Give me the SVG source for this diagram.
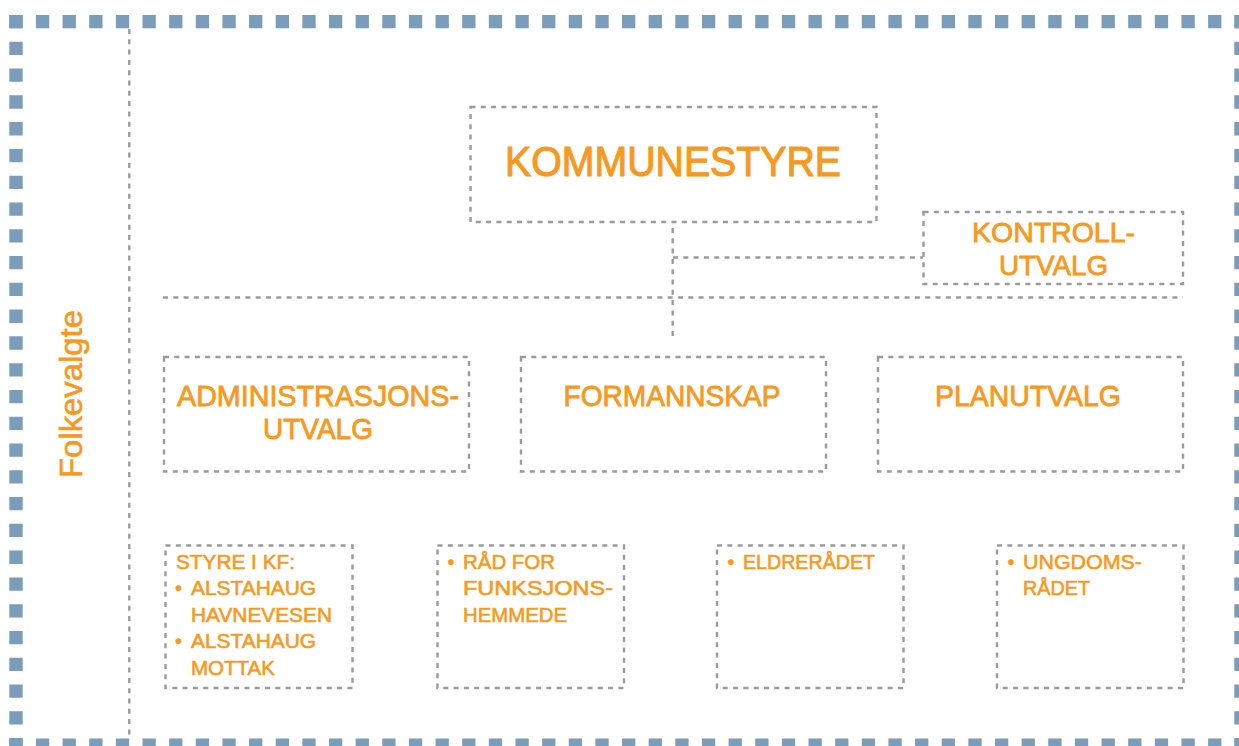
<svg xmlns="http://www.w3.org/2000/svg" width="1239" height="746" viewBox="0 0 1239 746">
<style>
.frame{fill:none;stroke:#7B9DBA;stroke-width:13.4}
.box{fill:none;stroke:#9B9B9B;stroke-width:2.4;stroke-dasharray:5 5.3}
.con{fill:none;stroke:#9B9B9B;stroke-width:2.4;stroke-dasharray:5 5.3}
text{font-family:"Liberation Sans",Arial,sans-serif;fill:#F7991F;stroke:#F7991F;stroke-width:0.6}
.big{font-size:43px;stroke-width:1.1}
.mid{font-size:29px;stroke-width:0.8}
.km{font-size:28px;stroke-width:0.8}
.sm{font-size:19.5px;stroke-width:0.55}
</style>
<rect width="1239" height="746" fill="#fff"/>
<g id="frame">
<line class="frame" x1="9.3" y1="21.6" x2="1239" y2="21.6" stroke-dasharray="13.3 13.34"/>
<line class="frame" x1="9.3" y1="745.2" x2="1239" y2="745.2" stroke-dasharray="13.3 13.34"/>
<line class="frame" x1="16" y1="15" x2="16" y2="746" stroke-dasharray="13.3 13.48"/>
<line class="frame" x1="1241" y1="15" x2="1241" y2="746" stroke-dasharray="13.3 13.48"/>
<line class="con" x1="129.3" y1="29" x2="129.3" y2="740"/>
</g>
<g id="folkevalgte">
<text transform="translate(82,394) rotate(-90)" text-anchor="middle" font-size="32" stroke-width="0.8" textLength="168" lengthAdjust="spacingAndGlyphs">Folkevalgte</text>
</g>
<g id="connectors">
<line class="con" x1="672.7" y1="228" x2="672.7" y2="341"/>
<line class="con" x1="673" y1="257.5" x2="923" y2="257.5"/>
<line class="con" x1="163" y1="297.5" x2="1183" y2="297.5"/>
</g>
<g id="kommunestyre">
<rect class="box" x="470.5" y="107" width="406" height="115"/>
<text class="big" x="673" y="176" text-anchor="middle" textLength="336" lengthAdjust="spacingAndGlyphs">KOMMUNESTYRE</text>
</g>
<g id="kontrollutvalg">
<rect class="box" x="923.5" y="212" width="259.5" height="72"/>
<text class="km" x="1053.5" y="242" text-anchor="middle" textLength="163" lengthAdjust="spacingAndGlyphs">KONTROLL-</text>
<text class="km" x="1053.5" y="275" text-anchor="middle" textLength="109" lengthAdjust="spacingAndGlyphs">UTVALG</text>
</g>
<g id="administrasjonsutvalg">
<rect class="box" x="164" y="357" width="305" height="114.5"/>
<text class="mid" x="318" y="406" text-anchor="middle" textLength="282" lengthAdjust="spacingAndGlyphs">ADMINISTRASJONS-</text>
<text class="mid" x="318" y="439" text-anchor="middle" textLength="110" lengthAdjust="spacingAndGlyphs">UTVALG</text>
</g>
<g id="formannskap">
<rect class="box" x="521" y="357" width="305" height="114.5"/>
<text class="mid" x="672" y="406" text-anchor="middle" textLength="217" lengthAdjust="spacingAndGlyphs">FORMANNSKAP</text>
</g>
<g id="planutvalg">
<rect class="box" x="878" y="357" width="305" height="114.5"/>
<text class="mid" x="1028" y="406" text-anchor="middle" textLength="186" lengthAdjust="spacingAndGlyphs">PLANUTVALG</text>
</g>
<g id="styre-i-kf">
<rect class="box" x="165.5" y="545.5" width="187" height="142.5"/>
<text class="sm" x="176" y="569" textLength="119" lengthAdjust="spacingAndGlyphs">STYRE I KF:</text>
<text class="sm" x="175" y="595">•</text>
<text class="sm" x="191" y="595" textLength="125" lengthAdjust="spacingAndGlyphs">ALSTAHAUG</text>
<text class="sm" x="191" y="622" textLength="141" lengthAdjust="spacingAndGlyphs">HAVNEVESEN</text>
<text class="sm" x="175" y="648">•</text>
<text class="sm" x="191" y="648" textLength="125" lengthAdjust="spacingAndGlyphs">ALSTAHAUG</text>
<text class="sm" x="191" y="675" textLength="84" lengthAdjust="spacingAndGlyphs">MOTTAK</text>
</g>
<g id="rad-funksjonshemmede">
<rect class="box" x="437.5" y="545.5" width="186.5" height="142.5"/>
<text class="sm" x="447.5" y="569">•</text>
<text class="sm" x="463" y="569" textLength="92" lengthAdjust="spacingAndGlyphs">RÅD FOR</text>
<text class="sm" x="463" y="595" textLength="150" lengthAdjust="spacingAndGlyphs">FUNKSJONS-</text>
<text class="sm" x="463" y="622" textLength="104" lengthAdjust="spacingAndGlyphs">HEMMEDE</text>
</g>
<g id="eldreradet">
<rect class="box" x="717" y="545.5" width="186.5" height="142.5"/>
<text class="sm" x="727.5" y="569">•</text>
<text class="sm" x="743" y="569" textLength="132" lengthAdjust="spacingAndGlyphs">ELDRERÅDET</text>
</g>
<g id="ungdomsradet">
<rect class="box" x="997" y="545.5" width="186.5" height="142.5"/>
<text class="sm" x="1007.5" y="569">•</text>
<text class="sm" x="1023" y="569" textLength="119" lengthAdjust="spacingAndGlyphs">UNGDOMS-</text>
<text class="sm" x="1023" y="595" textLength="67" lengthAdjust="spacingAndGlyphs">RÅDET</text>
</g>
</svg>
